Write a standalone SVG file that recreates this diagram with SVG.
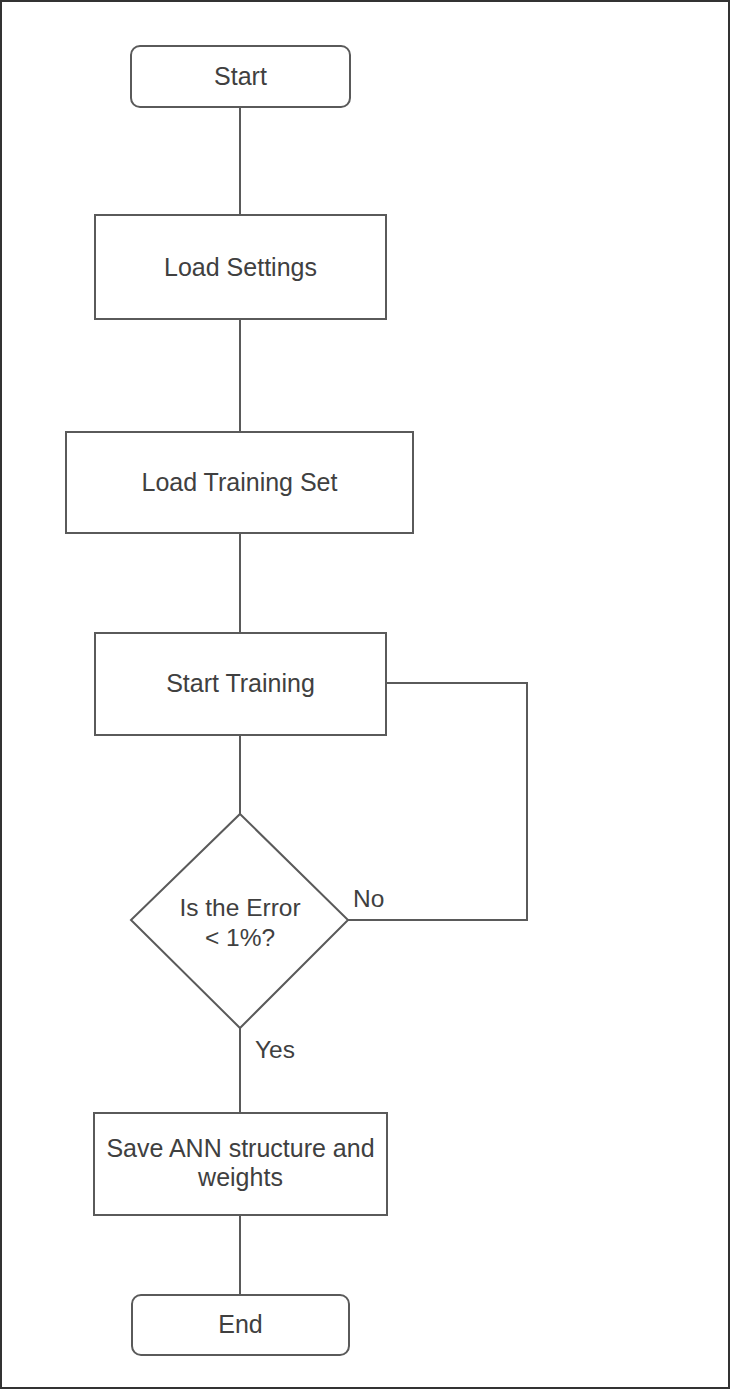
<svg xmlns="http://www.w3.org/2000/svg" width="730" height="1389" viewBox="0 0 730 1389">
<style>
.node{fill:#fff;stroke:#5a5a5a;stroke-width:2}
.conn{fill:none;stroke:#5a5a5a;stroke-width:2}
text{font-family:"Liberation Sans",Arial,sans-serif;font-size:25px;fill:#404040;text-anchor:middle;dominant-baseline:central}
.dec{font-size:24.5px}
.lbl{text-anchor:start;font-size:24.5px}
</style>
<rect x="1" y="1" width="728" height="1387" fill="#fff" stroke="#333" stroke-width="2"/>
<g id="connectors">
<line class="conn" x1="240" y1="107" x2="240" y2="215"/>
<line class="conn" x1="240" y1="319" x2="240" y2="432"/>
<line class="conn" x1="240" y1="533" x2="240" y2="633"/>
<line class="conn" x1="240" y1="735" x2="240" y2="814"/>
<polyline class="conn" points="348,920 527,920 527,683 386,683"/>
<line class="conn" x1="240" y1="1028" x2="240" y2="1113"/>
<line class="conn" x1="240" y1="1215" x2="240" y2="1295"/>
<text class="lbl" x="353" y="898">No</text>
<text class="lbl" x="255" y="1049">Yes</text>
</g>
<g id="start">
<rect class="node" x="131" y="46" width="219" height="61" rx="9"/>
<text x="240.5" y="76">Start</text>
</g>
<g id="load-settings">
<rect class="node" x="95" y="215" width="291" height="104"/>
<text x="240.5" y="267">Load Settings</text>
</g>
<g id="load-training-set">
<rect class="node" x="66" y="432" width="347" height="101"/>
<text x="239.5" y="482">Load Training Set</text>
</g>
<g id="start-training">
<rect class="node" x="95" y="633" width="291" height="102"/>
<text x="240.5" y="683">Start Training</text>
</g>
<g id="decision">
<polygon class="node" points="240,814 348,920 240,1028 131,920"/>
<text class="dec" x="240" y="907">Is the Error</text>
<text class="dec" x="240" y="937">&lt; 1%?</text>
</g>
<g id="save">
<rect class="node" x="94" y="1113" width="293" height="102"/>
<text x="240.5" y="1148">Save ANN structure and</text>
<text x="240.5" y="1177">weights</text>
</g>
<g id="end">
<rect class="node" x="132" y="1295" width="217" height="60" rx="9"/>
<text x="240.5" y="1324">End</text>
</g>
</svg>
